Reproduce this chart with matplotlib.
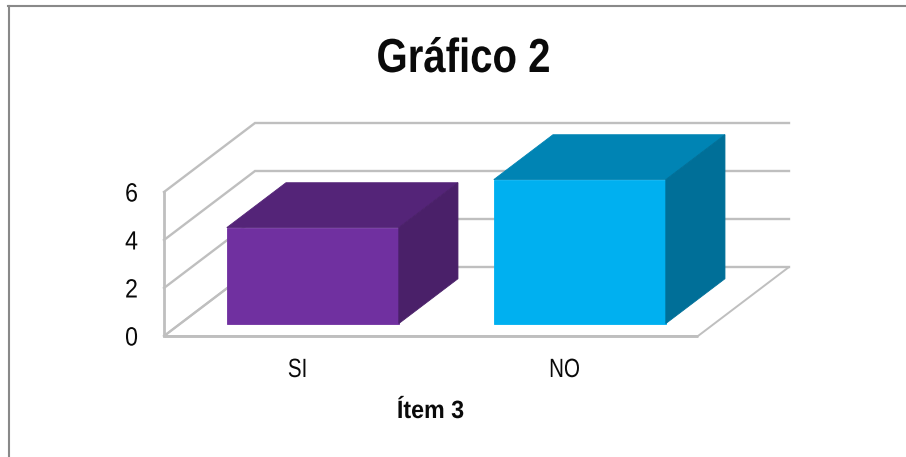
import matplotlib
matplotlib.use("Agg")
import matplotlib.pyplot as plt
from matplotlib.patches import Polygon
from matplotlib.patheffects import AbstractPathEffect
from matplotlib.transforms import Affine2D

categories = ["SI", "NO"]
values = [4, 6]
y_ticks = [0, 2, 4, 6]
title = "Gráfico 2"
x_label = "Ítem 3"
front_colors = ["#7030A0", "#00B0F0"]
top_colors = ["#542478", "#0084B4"]
side_colors = ["#4A2069", "#006F98"]
grid_color = "#BFBFBF"
frame_color = "#898989"
text_color = "#0A0A0A"

W, H = 906, 457
fig = plt.figure(figsize=(W / 100, H / 100), dpi=100, facecolor="white")

# one full-figure axes in category / value units
ax = fig.add_axes([0, 0, 1, 1])
px_per_cat = 267.0
px_per_val = 24.0
x0_px, y0_px = 164.0, 336.0
ax.set_xlim(-0.5 - x0_px / px_per_cat, -0.5 + (W - x0_px) / px_per_cat)
ax.set_ylim(-(H - y0_px) / px_per_val, y0_px / px_per_val)
ax.axis("off")

depth_x = 91.0 / px_per_cat
depth_y = 69.0 / px_per_val
left, right = -0.5, 1.5


def proj(x, v, d):
    return x + d * depth_x, v + d * depth_y


# floor
floor = [proj(left, 0, 0), proj(right, 0, 0), proj(right, 0, 1), proj(left, 0, 1)]
ax.add_patch(Polygon(floor, closed=True, fill=False, ec=grid_color, lw=1.4, zorder=1))
ax.plot(*zip(proj(left, 0, 0), proj(right, 0, 0)), color=grid_color, lw=2.1, zorder=1.1,
        solid_capstyle="butt")

# walls and grid lines
for v in y_ticks:
    ax.plot(*zip(proj(left, v, 0), proj(left, v, 1), proj(right, v, 1)),
            color=grid_color, lw=1.7, zorder=1, solid_joinstyle="miter")
ax.plot(*zip(proj(left, 0, 0), proj(left, max(y_ticks), 0)), color=grid_color, lw=2.0, zorder=1.1)

# bars
bar_w = 172.0 / px_per_cat
bar_shift = -0.004
d_front, d_back = 0.18, 0.83
for i, (v, cf, ct, cs) in enumerate(zip(values, front_colors, top_colors, side_colors)):
    xl = i + bar_shift - bar_w / 2
    xr = xl + bar_w
    ax.add_patch(Polygon([proj(xl, 0, d_front), proj(xr, 0, d_front), proj(xr, v, d_front), proj(xl, v, d_front)],
                         closed=True, fc=cf, ec=cf, lw=0.6, zorder=3))
    ax.add_patch(Polygon([proj(xl, v, d_front), proj(xr, v, d_front), proj(xr, v, d_back), proj(xl, v, d_back)],
                         closed=True, fc=ct, ec=ct, lw=0.6, zorder=3))
    ax.add_patch(Polygon([proj(xr, 0, d_front), proj(xr, 0, d_back), proj(xr, v, d_back), proj(xr, v, d_front)],
                         closed=True, fc=cs, ec=cs, lw=0.6, zorder=3))


class Squeeze(AbstractPathEffect):
    """Draw text glyphs condensed horizontally about a pixel x position."""

    def __init__(self, cx, sx):
        super().__init__()
        self.cx, self.sx = cx, sx

    def draw_path(self, renderer, gc, tpath, affine, rgbFace=None):
        t = affine + Affine2D().translate(-self.cx, 0).scale(self.sx, 1).translate(self.cx, 0)
        renderer.draw_path(gc, tpath, t, rgbFace)


def label(x_px, base_px, s, size, sx, weight="normal"):
    fig.text(x_px / W, 1 - base_px / H, s, ha="center", va="baseline", fontsize=size, fontweight=weight,
             family=["Liberation Sans", "DejaVu Sans"], color=text_color,
             path_effects=[Squeeze(x_px, sx)])


for v in y_ticks:
    label(x0_px - 32.5, y0_px - v * px_per_val + 9.5, str(v), 19, 0.88)
for i, c in enumerate(categories):
    x_px = x0_px + (i + 0.5) * px_per_cat
    label(x_px, 377, c, 19, 0.78)

label(463.5, 72, title, 34.4, 0.84, "bold")
label(430.5, 418, x_label, 18, 0.93, "bold")

fig.add_artist(plt.Line2D([9 / W, 9 / W], [0, 1 - 5.5 / H], color=frame_color, lw=1.5,
                          transform=fig.transFigure))
fig.add_artist(plt.Line2D([8 / W, 1], [1 - 5.5 / H, 1 - 5.5 / H], color=frame_color, lw=1.5,
                          transform=fig.transFigure))

fig.savefig("out.png", dpi=100, facecolor="white")
